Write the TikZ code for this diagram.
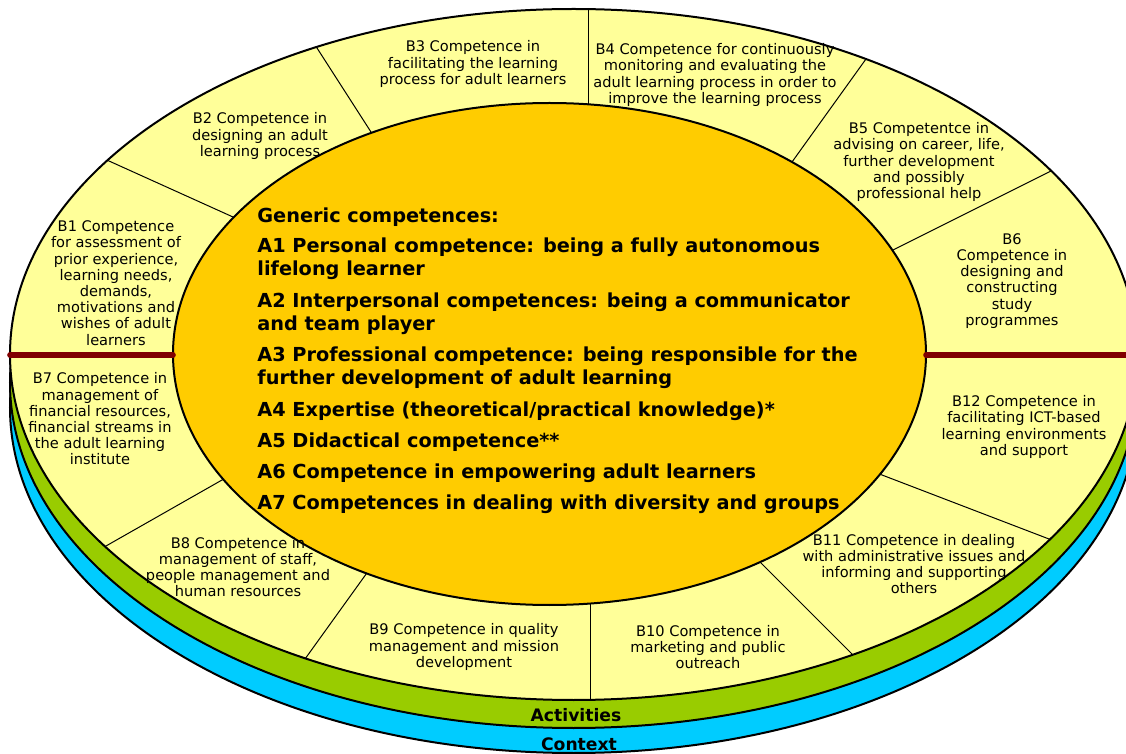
\documentclass[tikz,border=0pt]{standalone}
\usepackage{fontspec}
\setmainfont{DejaVu Sans}
\definecolor{ringyellow}{HTML}{FFFF99}
\definecolor{coreorange}{HTML}{FFCC00}
\definecolor{actgreen}{HTML}{99CC00}
\definecolor{ctxblue}{HTML}{00CCFF}
\definecolor{splitred}{HTML}{800000}
\begin{document}
\begin{tikzpicture}[x=0.5pt,y=-0.5pt,
  layer/.style={draw=black,line width=1pt},
  divider/.style={draw=black,line width=0.5pt,shorten <=-4pt,shorten >=-4pt},
  splitline/.style={draw=splitred,line width=2.8pt,line cap=round},
  bitem/.style={align=center,inner sep=0pt,font=\fontsize{7.3}{8.1}\selectfont},
  aitem/.style={anchor=west,align=left,inner sep=0pt,font=\bfseries\fontsize{9.65}{11.5}\selectfont},
  band/.style={inner sep=0pt,font=\bfseries\fontsize{8.6}{10}\selectfont}]
\useasboundingbox (0,0) rectangle (1126,754);

% the disc and its two lower layers
\draw[layer,fill=ctxblue] (573.7,407.5) ellipse [x radius=281.85pt,y radius=172.75pt];
\draw[layer,fill=actgreen] (573.7,382.5) ellipse [x radius=281.85pt,y radius=172.75pt];
\fill[ringyellow] (573.7,354.5) ellipse [x radius=281.85pt,y radius=172.75pt];

\begin{scope}
\clip (573.7,354.5) ellipse [x radius=281.85pt,y radius=172.75pt];
\draw[divider] (109,161) -- (233,217);
\draw[divider] (317,48) -- (371,132);
\draw[divider] (588,9) -- (588,104);
\draw[divider] (866,59) -- (792,162);
\draw[divider] (1049,172) -- (893,250);
\draw[divider] (882,475) -- (1049,539);
\draw[divider] (762,564) -- (853,655);
\draw[divider] (590,605) -- (590,700);
\draw[divider] (364,577) -- (305,659);
\draw[divider] (222,480) -- (106,546);
\end{scope}
\draw[layer] (573.7,354.5) ellipse [x radius=281.85pt,y radius=172.75pt];
\draw[layer,fill=coreorange] (549.5,354) ellipse [x radius=188.25pt,y radius=125.5pt];

\draw[splitline] (10,355) -- (173,355);
\draw[splitline] (926,355) -- (1132,355);

% ring of B competences
\node[bitem] (b1) at (116,283) {B1 Competence\\for assessment of\\prior experience,\\learning needs,\\demands,\\motivations and\\wishes of adult\\learners};
\node[bitem] (b2) at (260,136) {B2 Competence in\\designing an adult\\learning process};
\node[bitem] (b3) at (473,64) {B3 Competence in\\facilitating the learning\\process for adult learners};
\node[bitem] (b4) at (715,75) {B4 Competence for continuously\\monitoring and evaluating the\\adult learning process in order to\\improve the learning process};
\node[bitem] (b5) at (919,162) {B5 Competentce in\\advising on career, life,\\further development\\and possibly\\professional help};
\node[bitem] (b6) at (1012,281) {B6\\Competence in\\designing and\\constructing\\study\\programmes};
\node[bitem] (b7) at (100,419) {B7 Competence in\\management of\\financial resources,\\financial streams in\\the adult learning\\institute};
\node[bitem] (b8) at (238,567) {B8 Competence in\\management of staff,\\people management and\\human resources};
\node[bitem] (b9) at (464,647) {B9 Competence in quality\\management and mission\\development};
\node[bitem] (b10) at (708,647) {B10 Competence in\\marketing and public\\outreach};
\node[bitem] (b11) at (914,564) {B11 Competence in dealing\\with administrative issues and\\informing and supporting\\others};
\node[bitem] (b12) at (1024,427) {B12 Competence in\\facilitating ICT-based\\learning environments\\and support};

% generic competences in the core
\node[aitem] (gen) at (257,217) {Generic competences:};
\node[aitem] (a1) at (257,259) {A1 Personal competence: being a fully autonomous\\lifelong learner};
\node[aitem] (a2) at (257,314) {A2 Interpersonal competences: being a communicator\\and team player};
\node[aitem] (a3) at (257,368) {A3 Professional competence: being responsible for the\\further development of adult learning};
\node[aitem] (a4) at (257,411) {A4 Expertise (theoretical/practical knowledge)*};
\node[aitem] (a5) at (257,442) {A5 Didactical competence**};
\node[aitem] (a6) at (257,473) {A6 Competence in empowering adult learners};
\node[aitem] (a7) at (257,504) {A7 Competences in dealing with diversity and groups};

\node[band] (act) at (576,715) {Activities};
\node[band] (ctx) at (579,744) {Context};
\end{tikzpicture}
\end{document}
